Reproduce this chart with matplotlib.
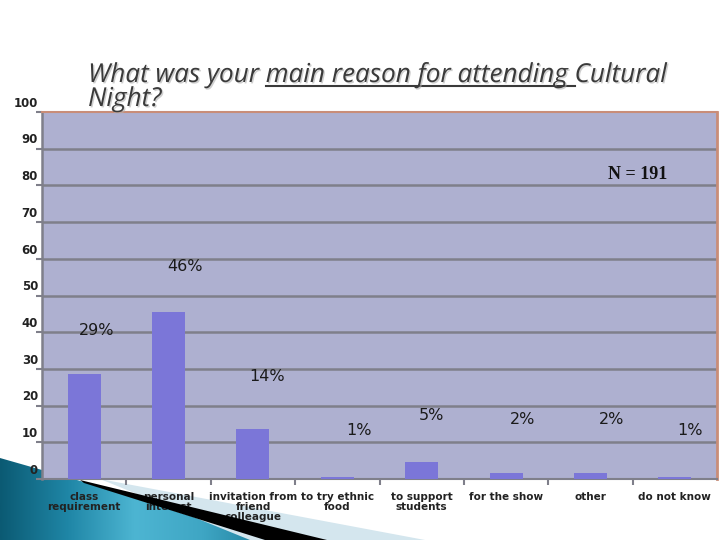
import numpy as np
import matplotlib
matplotlib.use("Agg")
import matplotlib.pyplot as plt
import matplotlib.patheffects as pe
from matplotlib.patches import Polygon
from matplotlib.colors import LinearSegmentedColormap

# data
categories = [
    "class\nrequirement", "personal\ninterest", "invitation from\nfriend\ncolleague",
    "to try ethnic\nfood", "to support\nstudents", "for the show", "other", "do not know",
]
values = [28.5, 45.6, 13.6, 0.6, 4.5, 1.7, 1.7, 0.6]
pct_labels = ["29%", "46%", "14%", "1%", "5%", "2%", "2%", "1%"]
yticks = [0, 10, 20, 30, 40, 50, 60, 70, 80, 90, 100]

# where the percentage labels float (data units)
label_y = [40.4, 57.9, 27.9, 13.1, 17.2, 16.1, 16.1, 13.1]
label_dx = [0.15, 0.19, 0.17, 0.26, 0.12, 0.19, 0.25, 0.18]

W, H = 720, 540
BG = "#AEB0D0"
BAR = "#7B76D8"
GRID = "#7F7F8A"
EDGE = "#C98D78"

fig = plt.figure(figsize=(7.2, 5.4), dpi=100)

# decorative slide corner (background part)
back = fig.add_axes([0, 0, 1, 1], zorder=0)
back.set_xlim(0, W)
back.set_ylim(H, 0)
back.axis("off")
back.patch.set_alpha(0)
back.add_patch(Polygon([(100, 479), (425, 540), (250, 540)], closed=True,
                       facecolor="#D4E6EE", edgecolor="none"))
teal = Polygon([(0, 458), (84, 482), (265, 540), (0, 540)], closed=True,
               facecolor="none", edgecolor="none")
back.add_patch(teal)
grad = np.linspace(0, 1, 256)[None, :]
cmap = LinearSegmentedColormap.from_list(
    "teal", ["#0B5A73", "#1F86A6", "#4DB5D2", "#3FA6C4", "#1D7F9C"])
img = back.imshow(grad, extent=[0, 270, 540, 450], cmap=cmap, aspect="auto")
img.set_clip_path(teal)

ax = fig.add_axes([42 / W, 1 - 479 / H, 675 / W, 367 / H], zorder=1)
ax.set_facecolor(BG)
x = np.arange(len(categories))
ax.bar(x, values, width=0.39, color=BAR, zorder=3)
ax.set_xlim(-0.5, len(categories) - 0.5)
ax.set_ylim(0, 100)

ax.set_yticks(yticks)
ax.set_yticklabels([])
ax.tick_params(axis="y", length=4, color=GRID, width=1.5)
for t in yticks[1:-1]:
    ax.axhline(t, color=GRID, lw=1.8, zorder=1)
for v in yticks:
    ax.text(-0.006, v + 0.6, str(v), transform=ax.get_yaxis_transform(),
            ha="right", va="bottom", fontsize=8.5, fontweight="bold",
            color="#222222")

ax.set_xticks(x)
ax.set_xticklabels(categories, fontsize=7.5, fontweight="bold", color="#222222",
                   linespacing=1.0)
ax.set_xticks(x[:-1] + 0.5, minor=True)
ax.tick_params(axis="x", which="major", length=0, pad=9)
ax.tick_params(axis="x", which="minor", length=4, color=GRID, width=1.5)

ax.spines["left"].set_color(GRID)
ax.spines["left"].set_linewidth(1.8)
ax.spines["bottom"].set_color(GRID)
ax.spines["bottom"].set_linewidth(1.5)
ax.spines["top"].set_color(EDGE)
ax.spines["top"].set_linewidth(1.5)
ax.spines["right"].set_color(EDGE)
ax.spines["right"].set_linewidth(2)

for i, lab in enumerate(pct_labels):
    ax.text(i + label_dx[i], label_y[i], lab, ha="center", va="center",
            fontsize=11.5, color="#1a1a1a", zorder=5)

ax.text(0.926, 0.83, "N = 191", transform=ax.transAxes, ha="right", va="center",
        fontsize=13, fontweight="bold", family="Liberation Serif", color="#111111")

# title, with the middle part underlined
renderer = fig.canvas.get_renderer()
shadow = [pe.withSimplePatchShadow(offset=(1, -1), shadow_rgbFace="#b0b0b0", alpha=0.6)]
tkw = dict(fontsize=18.8, style="italic", color="#3a3a3a", va="baseline",
           family="Open Sans", zorder=3, path_effects=shadow)
y1 = 1 - 82 / H
pieces = [("What was your ", False), ("main reason for attending ", True),
          ("Cultural", False)]
xpos = 88 / W
for txt, under in pieces:
    t = fig.text(xpos, y1, txt, **tkw)
    bb = t.get_window_extent(renderer)
    if under:
        uy = y1 - 4 / H
        fig.add_artist(plt.Line2D([bb.x0 / W, bb.x1 / W], [uy, uy],
                                  color="#3a3a3a", lw=1.5))
    xpos = bb.x1 / W
fig.text(88 / W, 1 - 106 / H, "Night?", **tkw)

# black stripe of the corner sits over the labels
front = fig.add_axes([0, 0, 1, 1], zorder=2)
front.set_xlim(0, W)
front.set_ylim(H, 0)
front.axis("off")
front.patch.set_alpha(0)
front.add_patch(Polygon([(80, 480), (327, 540), (265, 540), (84, 483)], closed=True,
                        facecolor="black", edgecolor="none"))

fig.savefig("out.png", dpi=100)
